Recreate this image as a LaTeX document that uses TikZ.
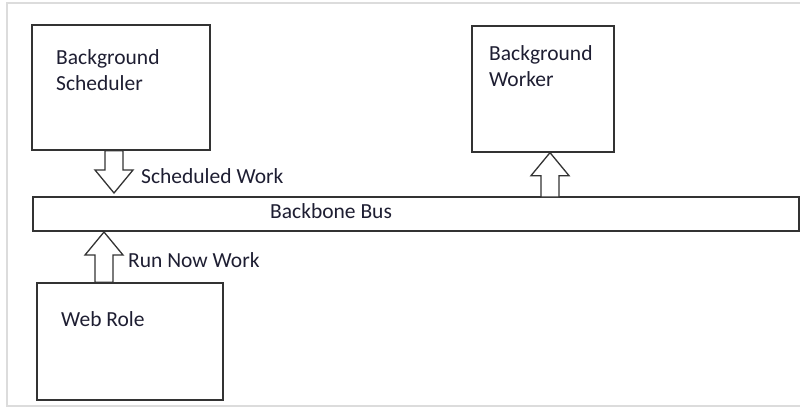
\documentclass[tikz,border=0pt]{standalone}
\usepackage{fontspec}
\setmainfont{Carlito}
\usetikzlibrary{calc}
\definecolor{inkline}{HTML}{333333}
\definecolor{inktext}{HTML}{1E1E32}
\definecolor{framegray}{HTML}{DCDCDC}
% hollow block arrow from #1 to #2 (vertical)
\newcommand\blockarrow[2]{%
  \draw[blockline] let \p1=(#1), \p2=(#2), \n1={(\y2-\y1)/abs(\y2-\y1)} in
    (\x1-9pt,\y1) -- (\x1-9pt,\y2-\n1*23pt) -- (\x1-19pt,\y2-\n1*23pt) -- (\x1,\y2)
    -- (\x1+19pt,\y2-\n1*23pt) -- (\x1+9pt,\y2-\n1*23pt) -- (\x1+9pt,\y1) -- cycle;}
\begin{document}
\begin{tikzpicture}[x=1pt, y=-1pt,
  every node/.style={font=\fontsize{21.5}{25.5}\selectfont, text=inktext},
  box/.style={draw=inkline, line width=1.3pt, fill=white, inner sep=0pt},
  txt/.style={inner sep=0pt, align=left, anchor=base west},
  blockline/.style={draw=inkline, line width=1.3pt, fill=white},
  frame/.style={draw=framegray, line width=2.5pt}]
  \useasboundingbox (0,0) rectangle (800,408);
  \draw[frame] (801,3) -- (7,3) -- (7,406) -- (801,406);
  % boxes
  \node[box, minimum width=178, minimum height=125] (sched) at (121,87.5) {};
  \node[box, minimum width=142, minimum height=126] (worker) at (543,89) {};
  \node[box, minimum width=766, minimum height=34] (bus) at (416,214) {};
  \node[box, minimum width=186, minimum height=117] (web) at (130,341.5) {};
  % texts (base = last line)
  \node[txt] (schedtxt) at (56,90) {Background\\Scheduler};
  \node[txt] (workertxt) at (489,86) {Background\\Worker};
  \node[txt] (bustxt) at (270,218) {Backbone Bus};
  \node[txt] (webtxt) at (61,326) {Web Role};
  \node[txt] (schedlab) at (141,183) {Scheduled Work};
  \node[txt] (runlab) at (128,267) {Run Now Work};
  % arrows
  \coordinate (schedtip) at (114,193);
  \coordinate (workerfoot) at (550,197);
  \coordinate (runtip) at (104,232);
  \blockarrow{sched.south -| schedtip}{schedtip}
  \blockarrow{workerfoot}{worker.south -| workerfoot}
  \blockarrow{web.north -| runtip}{runtip}
\end{tikzpicture}
\end{document}
